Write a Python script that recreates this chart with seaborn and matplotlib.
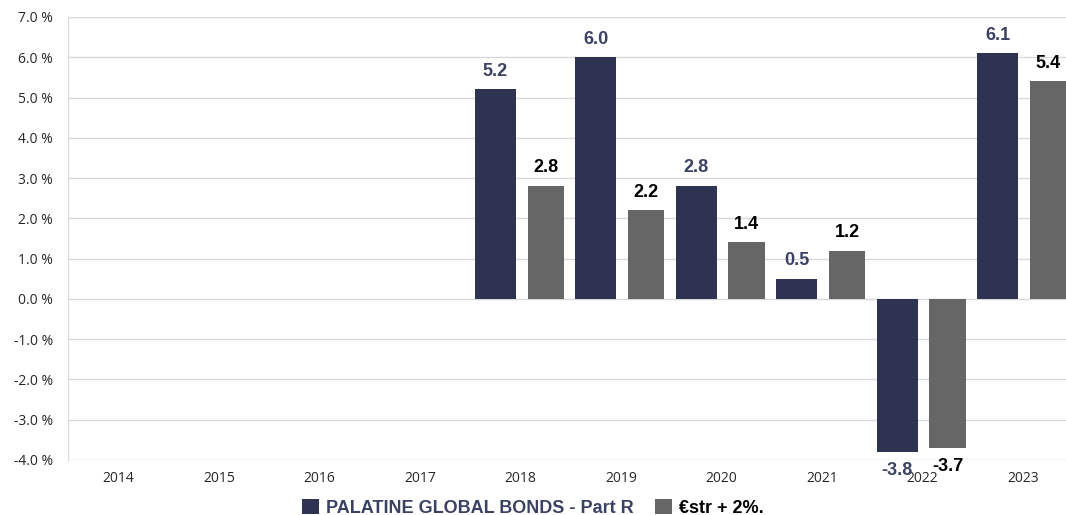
import numpy as np
import pandas as pd
import matplotlib.pyplot as plt
import seaborn as sns

years = ["2014", "2015", "2016", "2017", "2018", "2019", "2020", "2021", "2022", "2023"]
fund = [np.nan, np.nan, np.nan, np.nan, 5.2, 6.0, 2.8, 0.5, -3.8, 6.1]
bench = [np.nan, np.nan, np.nan, np.nan, 2.8, 2.2, 1.4, 1.2, -3.7, 5.4]
series = ["PALATINE GLOBAL BONDS - Part R", "€str + 2%."]
colors = ["#2e3352", "#666666"]
label_colors = ["#3b4163", "#000000"]

df = pd.DataFrame({
    "Year": years * 2,
    "Value": fund + bench,
    "Series": [series[0]] * len(years) + [series[1]] * len(years),
}).dropna()

sns.set_style("white")
plt.rcParams["font.family"] = ["Open Sans", "DejaVu Sans"]

fig = plt.figure(figsize=(10.66, 5.15), dpi=100)
# axes run a bit past the right edge, like the original export
ax = fig.add_axes([0.0642, 0.107, 0.9424, 0.86])

sns.barplot(data=df, x="Year", y="Value", hue="Series", order=years,
            hue_order=series, palette=colors, width=1.0, gap=0.18,
            saturation=1, linewidth=0, ax=ax)

# benchmark bars are a little narrower than the fund bars
for p in ax.containers[1]:
    c = p.get_x() + p.get_width() / 2
    w = p.get_width() * 36 / 41
    p.set_width(w)
    p.set_x(c - w / 2)

# value labels
for cont, col in zip(ax.containers, label_colors):
    ax.bar_label(cont, labels=[f"{v:.1f}" for v in cont.datavalues], padding=7,
                 color=col, fontweight="bold", fontsize=13, family="Liberation Sans")

ax.set_ylim(-4, 7)
ax.set_xlim(-0.5, 9.5)
ax.set_yticks(np.arange(-4, 8, 1))
ax.set_yticklabels([f"{v:.1f} %" for v in np.arange(-4, 8, 1)], fontsize=10)
ax.tick_params(axis="x", labelsize=10, length=0, pad=8)
ax.tick_params(axis="y", length=0, pad=11)
ax.yaxis.grid(True, color="#d9d9d9", linewidth=1)
ax.set_axisbelow(True)
for s in ["top", "right", "bottom"]:
    ax.spines[s].set_visible(False)
ax.spines["left"].set_color("#d9d9d9")
ax.set_xlabel("")
ax.set_ylabel("")

handles, labs = ax.get_legend_handles_labels()
ax.get_legend().remove()
leg = fig.legend(handles, labs, loc="lower center", bbox_to_anchor=(0.5, -0.035),
                 ncol=2, frameon=False, handlelength=0.9, handleheight=0.9,
                 handletextpad=0.4, columnspacing=1.2,
                 prop={"family": "Liberation Sans", "weight": "bold", "size": 13})
for t, c in zip(leg.get_texts(), label_colors):
    t.set_color(c)

fig.savefig("out.png", dpi=100)
